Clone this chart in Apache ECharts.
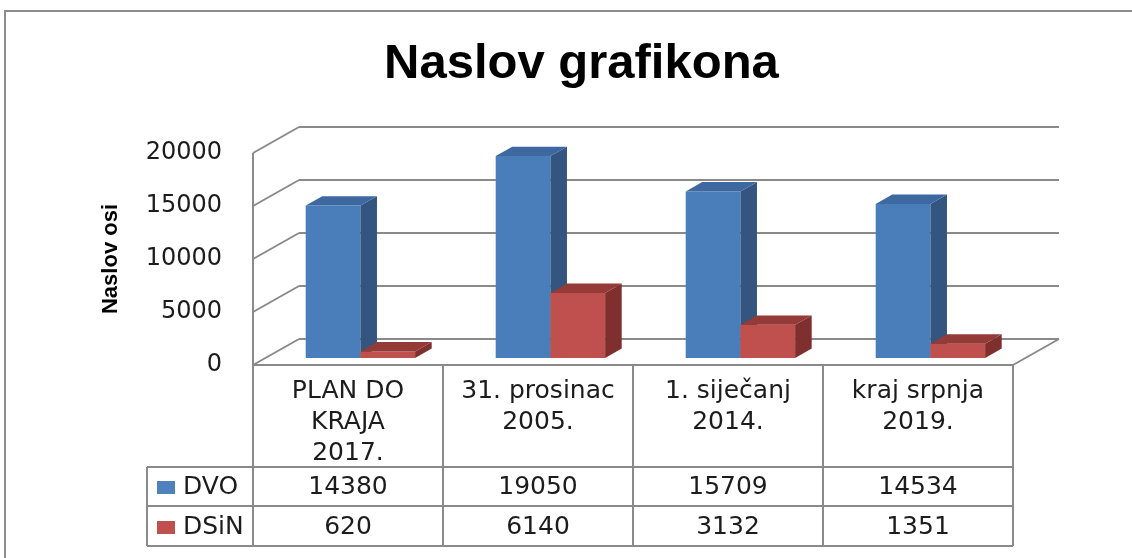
<!DOCTYPE html>
<html>
<head>
<meta charset="UTF-8">
<title>Naslov grafikona</title>
<script src="https://cdn.jsdelivr.net/npm/echarts@6/dist/echarts.min.js"></script>
<style>
  html, body { margin: 0; padding: 0; background: #fff; }
  #main { width: 1132px; height: 558px; }
</style>
</head>
<body>
<div id="main"></div>
<script type="text/javascript">
// podaci
var categories = ['PLAN DO KRAJA 2017.', '31. prosinac 2005.', '1. siječanj 2014.', 'kraj srpnja 2019.'];
var headerLabels = ['PLAN DO\nKRAJA\n2017.', '31. prosinac\n2005.', '1. siječanj\n2014.', 'kraj srpnja\n2019.'];
var seriesNames = ['DVO', 'DSiN'];
var dvo = [14380, 19050, 15709, 14534];
var dsin = [620, 6140, 3132, 1351];
var yTicks = [0, 5000, 10000, 15000, 20000];

// 3D pomak (dubina poda)
var DX = 46, DY = -26;
var GRID = '#8a8a8a';
var TXT = '#1c1c1c';
var FONT = '25px "DejaVu Sans"';

var colors = [
  { front: '#4a7ebb', side: '#33557f', top: '#3e69a0', key: '#4f81bd' },
  { front: '#c0504d', side: '#7f2f2d', top: '#943a37', key: '#c0504d' }
];

function line(x1, y1, x2, y2) {
  return { type: 'line', shape: { x1: x1, y1: y1, x2: x2, y2: y2 },
    style: { stroke: GRID, lineWidth: 2 } };
}

function wallsItem(params, api) {
  var cs = params.coordSys;
  var v = api.value(1);
  var y = api.coord([0, v])[1];
  var x0 = cs.x, x1 = cs.x + cs.width;
  var ch = [
    line(x0, y, x0 + DX, y + DY),
    line(x0 + DX, y + DY, x1 + DX, y + DY)
  ];
  if (v === 0) {
    ch.push(line(x0, cs.y, x0, y));
    ch.push(line(x0, y, x1, y));
    ch.push(line(x1, y, x1 + DX, y + DY));
  }
  return { type: 'group', children: ch };
}

function barItem(k) {
  var c = colors[k];
  return function (params, api) {
    var i = api.value(0), v = api.value(1);
    var base = api.coord([i, 0]), top = api.coord([i, v]);
    var band = api.size([1, 0])[0];
    var w = band * 0.288;
    var off = 0.27, dep = 0.36;
    var x0 = base[0] + DX * off + (k - 1) * w;
    var yb = base[1] + DY * off, yt = top[1] + DY * off;
    var dx = DX * dep, dy = DY * dep;
    return { type: 'group', children: [
      { type: 'polygon', shape: { points: [[x0, yb], [x0, yt], [x0 + w, yt], [x0 + w, yb]] }, style: { fill: c.front } },
      { type: 'polygon', shape: { points: [[x0 + w, yb], [x0 + w, yt], [x0 + w + dx, yt + dy], [x0 + w + dx, yb + dy]] }, style: { fill: c.side } },
      { type: 'polygon', shape: { points: [[x0, yt], [x0 + dx, yt + dy], [x0 + w + dx, yt + dy], [x0 + w, yt]] }, style: { fill: c.top } }
    ] };
  };
}

function txt(s, x, y, align) {
  return { type: 'text', style: { text: s, x: x, y: y, font: FONT, fill: TXT,
    align: align || 'center', verticalAlign: 'middle' } };
}

function tableItem(params, api) {
  var i = api.value(0);
  var base = api.coord([i, 0]);
  var band = api.size([1, 0])[0];
  var cx = base[0], xl = cx - band / 2, xr = cx + band / 2;
  var y0 = base[1];
  var r1 = y0 + 102, r2 = y0 + 141, r3 = y0 + 181;
  var ch = [
    line(xl, y0, xl, r3),
    line(xl, r1, xr, r1),
    line(xl, r2, xr, r2),
    line(xl, r3, xr, r3),
    { type: 'text', style: { text: headerLabels[i], x: cx, y: y0 + 11, font: FONT, fill: TXT,
      align: 'center', verticalAlign: 'top', lineHeight: 31 } },
    txt(String(api.value(2)), cx, (r1 + r2) / 2 + 1),
    txt(String(api.value(3)), cx, (r2 + r3) / 2 + 1)
  ];
  if (i === categories.length - 1) ch.push(line(xr, y0, xr, r3));
  if (i === 0) {
    var lx = xl - 106;
    ch.push(line(lx, r1, lx, r3), line(lx, r1, xl, r1), line(lx, r2, xl, r2), line(lx, r3, xl, r3));
    [r1, r2].forEach(function (r, k) {
      var ry = r + (k === 0 ? 14 : 15);
      ch.push({ type: 'rect', shape: { x: lx + 10, y: ry, width: 18, height: 13 }, style: { fill: colors[k].key } });
      ch.push(txt(seriesNames[k], lx + 36, ry + 6.5, 'left'));
    });
  }
  return { type: 'group', children: ch };
}

var myChart = echarts.init(document.getElementById('main'));
var option = {
  animation: false,
  title: {
    text: 'Naslov grafikona',
    left: 379,
    top: 35,
    textStyle: { fontFamily: 'Liberation Sans', fontWeight: 'bold', fontSize: 49, color: '#000' }
  },
  graphic: [{
    type: 'polyline',
    shape: { points: [[5, 558], [5, 11], [1132, 11]] },
    style: { stroke: '#8c8c8c', lineWidth: 2, fill: null }
  }],
  grid: { left: 253, right: 119, top: 153, bottom: 193 },
  xAxis: {
    type: 'category',
    data: categories,
    axisLine: { show: false },
    axisTick: { show: false },
    axisLabel: { show: false }
  },
  yAxis: {
    type: 'value',
    min: 0,
    max: 20000,
    interval: 5000,
    name: 'Naslov osi',
    nameLocation: 'middle',
    nameRotate: 90,
    nameGap: 131,
    nameTextStyle: { fontFamily: 'Liberation Sans', fontWeight: 'bold', fontSize: 22, color: '#000' },
    axisLine: { show: false },
    axisTick: { show: false },
    splitLine: { show: false },
    axisLabel: { margin: 31, fontFamily: 'DejaVu Sans', fontSize: 24, color: TXT,
      formatter: function (v) { return String(v); } }
  },
  series: [
    { type: 'custom', name: 'zidovi', renderItem: wallsItem, clip: false, silent: true,
      data: yTicks.map(function (v) { return [0, v]; }) },
    { type: 'custom', name: seriesNames[0], renderItem: barItem(0), clip: false,
      data: dvo.map(function (v, i) { return [i, v]; }) },
    { type: 'custom', name: seriesNames[1], renderItem: barItem(1), clip: false,
      data: dsin.map(function (v, i) { return [i, v]; }) },
    { type: 'custom', name: 'tablica', renderItem: tableItem, clip: false, silent: true,
      data: categories.map(function (c, i) { return [i, 0, dvo[i], dsin[i]]; }) }
  ]
};
myChart.setOption(option);
</script>
</body>
</html>
